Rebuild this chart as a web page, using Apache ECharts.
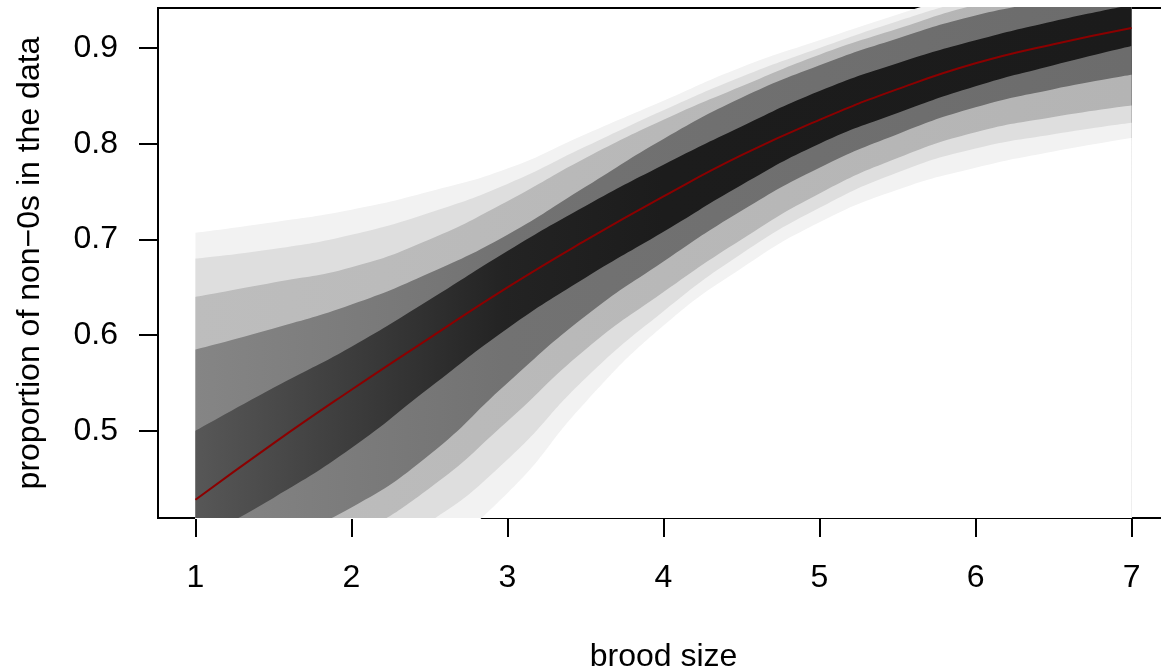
<!DOCTYPE html>
<html>
<head>
<meta charset="utf-8">
<title>brood size</title>
<script src="https://cdn.jsdelivr.net/npm/echarts@6.0.0/dist/echarts.min.js"></script>
<style>
  html, body { margin: 0; padding: 0; background: #fff; }
  #chart { width: 1161px; height: 670px; }
</style>
</head>
<body>
<div id="chart"></div>
<script>
// brood size sample points
const xs = [1, 1.5, 2, 2.5, 3, 3.5, 4, 4.5, 5, 5.5, 6, 6.5, 7];

// posterior mean curve (red)
const meanLine = [0.428, 0.487, 0.543, 0.597, 0.650, 0.699, 0.745, 0.788, 0.825, 0.857, 0.884, 0.904, 0.921];

// envelope of the posterior draws, outer (faint) to inner (dark)
const band1Lo = [0.30, 0.31, 0.33, 0.37, 0.435, 0.53, 0.61, 0.67, 0.718, 0.752, 0.775, 0.792, 0.806];
const band1Hi = [0.707, 0.718, 0.731, 0.75, 0.774, 0.81, 0.845, 0.88, 0.908, 0.935, 0.96, 0.98, 0.995];
const band2Lo = [0.32, 0.34, 0.365, 0.405, 0.47, 0.555, 0.625, 0.685, 0.733, 0.77, 0.795, 0.81, 0.822];
const band2Hi = [0.68, 0.69, 0.705, 0.728, 0.758, 0.797, 0.835, 0.87, 0.90, 0.928, 0.952, 0.97, 0.985];
const band3Lo = [0.34, 0.36, 0.39, 0.44, 0.51, 0.585, 0.645, 0.70, 0.748, 0.785, 0.812, 0.828, 0.84];
const band3Hi = [0.64, 0.655, 0.671, 0.70, 0.74, 0.785, 0.825, 0.86, 0.893, 0.92, 0.945, 0.96, 0.975];
const band4Lo = [0.36, 0.385, 0.42, 0.475, 0.55, 0.62, 0.677, 0.73, 0.775, 0.81, 0.838, 0.857, 0.872];
const band4Hi = [0.585, 0.607, 0.632, 0.665, 0.705, 0.755, 0.805, 0.848, 0.882, 0.91, 0.934, 0.95, 0.965];
const band5Lo = [0.385, 0.43, 0.482, 0.545, 0.607, 0.66, 0.708, 0.757, 0.80, 0.832, 0.86, 0.882, 0.902];
const band5Hi = [0.50, 0.545, 0.588, 0.637, 0.688, 0.735, 0.778, 0.818, 0.855, 0.884, 0.908, 0.928, 0.945];

// tick labels
const xTicks = [1, 2, 3, 4, 5, 6, 7];
const yTicks = [0.5, 0.6, 0.7, 0.8, 0.9];

const font = 'Liberation Sans, Arial, Helvetica, sans-serif';

function hGrad(stops) {
  return new echarts.graphic.LinearGradient(0, 0, 1, 0,
    stops.map(s => ({ offset: s[0], color: s[1] })));
}

// band colours, outer to inner (gradient runs along brood size)
const c1 = '#f2f2f2';
const c2 = '#dedede';
const c3 = () => hGrad([[0, '#bdbdbd'], [0.5, '#b8b8b8'], [1, '#b4b4b4']]);
const c4 = () => hGrad([[0, '#858585'], [0.33, '#727272'], [1, '#6c6c6c']]);
const c5 = () => hGrad([[0, '#575757'], [0.17, '#3c3c3c'], [0.33, '#232323'], [0.5, '#1c1c1c'], [1, '#1b1b1b']]);

// area filled from a boundary down to the bottom of the plot;
// nested bands are painted upper edges first, then lower edges back out
function fillDown(vals, fill) {
  return {
    type: 'line',
    data: xs.map((x, i) => [x, vals[i]]),
    smooth: true,
    symbol: 'none',
    lineStyle: { opacity: 0 },
    areaStyle: { color: fill, opacity: 1, origin: 'start' },
    silent: true
  };
}

const chart = echarts.init(document.getElementById('chart'));

const option = {
  animation: false,
  grid: {
    left: 158,
    right: -8,
    top: 8,
    bottom: 152,
    outerBoundsMode: 'none',
    containLabel: false,
    show: true,
    borderColor: '#000',
    borderWidth: 2,
    backgroundColor: 'transparent'
  },
  xAxis: {
    type: 'value',
    min: 0.76,
    max: 7.24,
    name: 'brood size',
    nameLocation: 'middle',
    nameGap: 123,
    nameTextStyle: { fontFamily: font, fontSize: 32, color: '#000' },
    axisLine: { show: true, lineStyle: { color: '#000', width: 2 } },
    axisTick: {
      show: true,
      length: 19,
      customValues: xTicks,
      lineStyle: { color: '#000', width: 2 }
    },
    axisLabel: {
      customValues: xTicks,
      margin: 44,
      fontFamily: font,
      fontSize: 32,
      color: '#000'
    },
    splitLine: { show: false }
  },
  yAxis: {
    type: 'value',
    min: 0.409,
    max: 0.9418,
    name: 'proportion of non−0s in the data',
    nameLocation: 'middle',
    nameGap: 112,
    nameTextStyle: { fontFamily: font, fontSize: 32, color: '#000' },
    axisLine: { show: true, lineStyle: { color: '#000', width: 2 } },
    axisTick: {
      show: true,
      length: 19,
      customValues: yTicks,
      lineStyle: { color: '#000', width: 2 }
    },
    axisLabel: {
      customValues: yTicks,
      margin: 40,
      fontFamily: font,
      fontSize: 32,
      color: '#000',
      formatter: v => v.toFixed(1)
    },
    splitLine: { show: false }
  },
  series: [
    fillDown(band1Hi, c1),
    fillDown(band2Hi, c2),
    fillDown(band3Hi, c3()),
    fillDown(band4Hi, c4()),
    fillDown(band5Hi, c5()),
    fillDown(band5Lo, c4()),
    fillDown(band4Lo, c3()),
    fillDown(band3Lo, c2),
    fillDown(band2Lo, c1),
    fillDown(band1Lo, '#ffffff'),
    {
      name: 'mean',
      type: 'line',
      data: xs.map((x, i) => [x, meanLine[i]]),
      smooth: true,
      symbol: 'none',
      lineStyle: { color: '#8b0000', width: 2 },
      z: 5
    }
  ]
};

chart.setOption(option);
</script>
</body>
</html>
